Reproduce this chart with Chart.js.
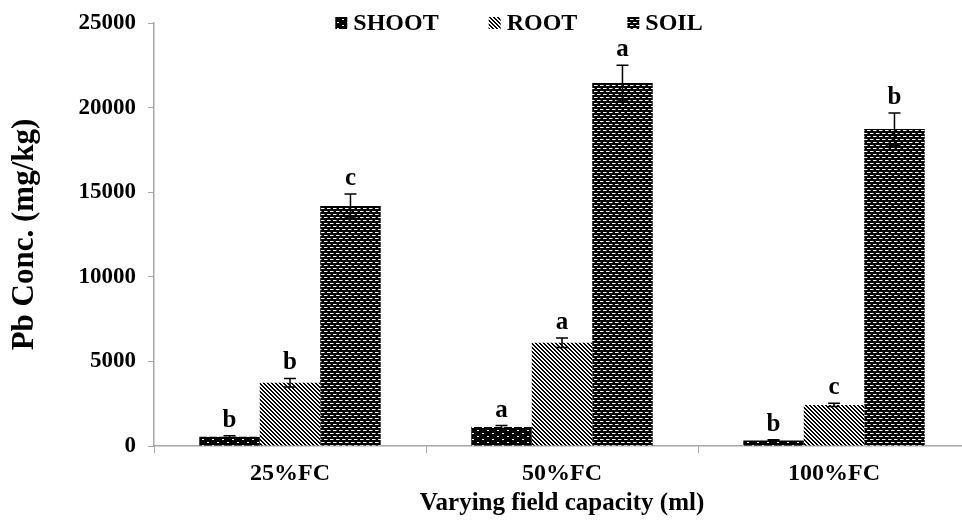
<!DOCTYPE html>
<html><head><meta charset="utf-8">
<style>html,body{margin:0;padding:0;overflow:hidden;background:#fff}#wrap{width:985px;height:521px}</style>
<script src="https://cdn.jsdelivr.net/npm/chart.js@4"></script>
</head><body><div id="wrap"><canvas id="c" width="985" height="521"></canvas></div>
<script>
const categories = ['25%FC', '50%FC', '100%FC'];
const seriesNames = ['SHOOT', 'ROOT', 'SOIL'];
const shootValues = [550, 1120, 330];
const shootErrors = [60, 90, 40];
const rootValues = [3740, 6100, 2430];
const rootErrors = [250, 280, 100];
const soilValues = [14180, 21450, 18730];
const soilErrors = [710, 1060, 950];
const shootLetters = ['b', 'a', 'b'];
const rootLetters = ['b', 'a', 'c'];
const soilLetters = ['c', 'a', 'b'];
const yTicks = [0, 5000, 10000, 15000, 20000, 25000];

const FONT = "'Liberation Serif', 'Times New Roman', serif";
const AXIS_GRAY = '#a6a6a6';

function makePattern(kind) {
  const c = document.createElement('canvas');
  const g = c.getContext('2d');
  if (kind === 'shoot') {
    c.width = 10; c.height = 6;
    g.fillStyle = '#000'; g.fillRect(0, 0, 10, 6);
    g.fillStyle = '#fff';
    g.fillRect(2, 1, 2, 1);
    g.fillRect(7, 4, 2, 1);
  } else if (kind === 'root') {
    c.width = 4; c.height = 4;
    g.fillStyle = '#fff'; g.fillRect(0, 0, 4, 4);
    g.fillStyle = '#000';
    for (let y = 0; y < 4; y++) for (let x = 0; x < 4; x++) {
      if ((((x - y) % 4) + 4) % 4 < 2) g.fillRect(x, y, 1, 1);
    }
  } else {
    c.width = 6; c.height = 6;
    g.fillStyle = '#000'; g.fillRect(0, 0, 6, 6);
    g.fillStyle = '#fff';
    g.fillRect(0, 1, 3, 1);
    g.fillRect(3, 4, 3, 1);
    g.fillStyle = '#888';
    g.fillRect(3, 1, 1, 1);
    g.fillRect(0, 4, 1, 1);
  }
  return g.createPattern(c, 'repeat');
}

const ctx = document.getElementById('c').getContext('2d');
const patterns = [makePattern('shoot'), makePattern('root'), makePattern('soil')];
const values = [shootValues, rootValues, soilValues];
const errors = [shootErrors, rootErrors, soilErrors];
const letters = [shootLetters, rootLetters, soilLetters];

const errorBarPlugin = {
  id: 'errorBars',
  afterDatasetsDraw(chart) {
    const c = chart.ctx;
    const y = chart.scales.y;
    c.save();
    chart.data.datasets.forEach((ds, i) => {
      const meta = chart.getDatasetMeta(i);
      meta.data.forEach((bar, j) => {
        const v = ds.data[j], e = ds.errors[j];
        const yt = y.getPixelForValue(v + e);
        const yb = y.getPixelForValue(v - e);
        const x = bar.x;
        c.strokeStyle = '#000';
        c.lineWidth = 1.5;
        c.beginPath();
        c.moveTo(x, yt); c.lineTo(x, yb);
        c.moveTo(x - 6, yt); c.lineTo(x + 6, yt);
        c.moveTo(x - 6, yb); c.lineTo(x + 6, yb);
        c.stroke();
        c.fillStyle = '#000';
        c.font = 'bold 25px ' + FONT;
        c.textAlign = 'center';
        c.textBaseline = 'alphabetic';
        c.fillText(ds.letters[j], x, yt - 9);
      });
    });
    c.restore();
  }
};

const legendPlugin = {
  id: 'customLegend',
  afterDraw(chart) {
    const c = chart.ctx;
    c.save();
    c.font = 'bold 24px ' + FONT;
    const box = 12, gapIcon = 6, gapItem = 50;
    const widths = chart.data.datasets.map(d => c.measureText(d.label).width);
    let total = 0;
    widths.forEach((w, i) => { total += box + gapIcon + w + (i < widths.length - 1 ? gapItem : 0); });
    let x = 519 - total / 2;
    const yc = 23;
    chart.data.datasets.forEach((d, i) => {
      c.fillStyle = d.backgroundColor;
      c.fillRect(x, yc - box / 2, box, box);
      x += box + gapIcon;
      c.fillStyle = '#000';
      c.textAlign = 'left';
      c.textBaseline = 'middle';
      c.fillText(d.label, x, yc + 1);
      x += widths[i] + gapItem;
    });
    c.restore();
  }
};

new Chart(ctx, {
  type: 'bar',
  data: {
    labels: categories,
    datasets: seriesNames.map((name, i) => ({
      label: name,
      data: values[i],
      errors: errors[i],
      letters: letters[i],
      backgroundColor: patterns[i],
      borderWidth: 0,
      categoryPercentage: 0.667,
      barPercentage: 1.0
    }))
  },
  options: {
    responsive: false,
    devicePixelRatio: 1,
    animation: false,
    layout: { padding: { top: 23, right: 15, bottom: 0, left: 0 } },
    plugins: { legend: { display: false }, tooltip: { enabled: false } },
    scales: {
      x: {
        grid: { display: true, drawOnChartArea: false, drawTicks: true, tickLength: 7, color: AXIS_GRAY, offset: true },
        border: { display: true, color: AXIS_GRAY, width: 1.5 },
        ticks: { color: '#000', font: { family: FONT, size: 24, weight: 'bold' }, padding: 6 },
        title: { display: true, text: 'Varying field capacity (ml)', color: '#000', font: { family: FONT, size: 25, weight: 'bold' }, padding: { top: 0, bottom: 2 } },
        afterFit(scale) { scale.height = 75; scale.paddingLeft = 0; scale.paddingRight = 0; }
      },
      y: {
        min: 0, max: 25000,
        afterBuildTicks(scale) { scale.ticks = yTicks.map(v => ({ value: v })); },
        grid: { display: true, drawOnChartArea: false, drawTicks: true, tickLength: 6, color: AXIS_GRAY },
        border: { display: true, color: AXIS_GRAY, width: 1.5 },
        ticks: { color: '#000', font: { family: FONT, size: 23, weight: 'bold' }, padding: 12, callback: v => String(v) },
        title: { display: true, text: 'Pb Conc. (mg/kg)', color: '#000', font: { family: FONT, size: 31, weight: 'bold' }, padding: { top: 6, bottom: 0 } },
        afterFit(scale) { scale.width = 154; scale.paddingTop = 0; scale.paddingBottom = 0; }
      }
    }
  },
  plugins: [errorBarPlugin, legendPlugin]
});
</script>
</body></html>
